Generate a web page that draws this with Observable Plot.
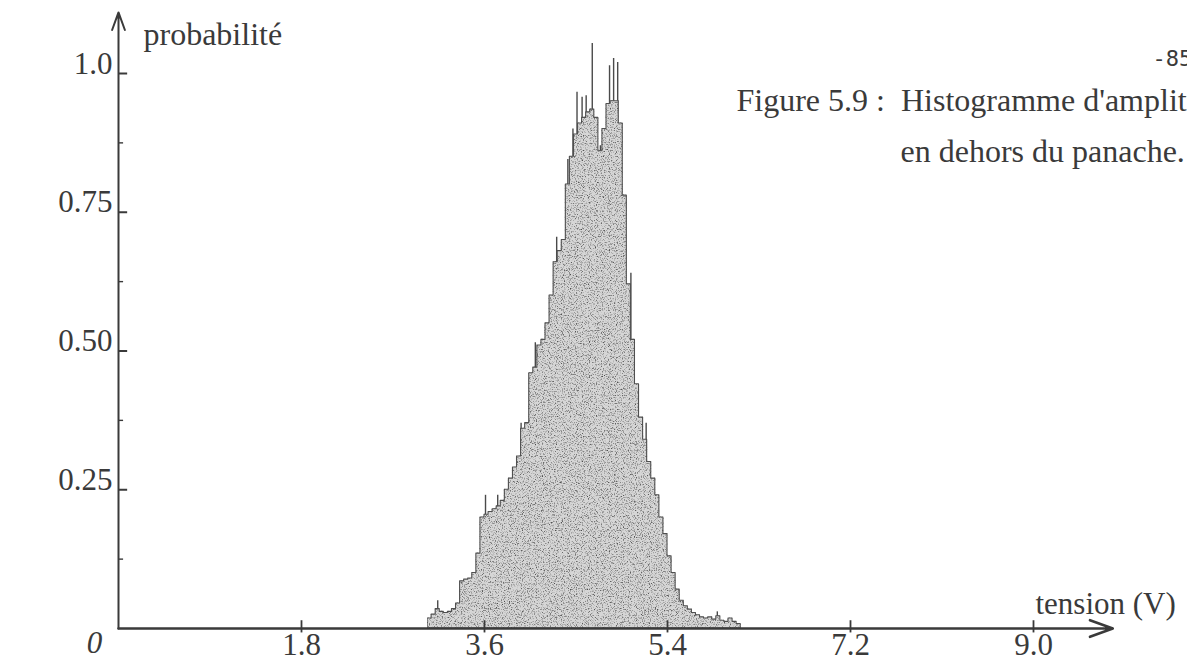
<!DOCTYPE html>
<html>
<head>
<meta charset="utf-8">
<script src="https://cdn.jsdelivr.net/npm/d3@7"></script>
<script src="https://cdn.jsdelivr.net/npm/@observablehq/plot@0.6"></script>
<style>
  html, body { margin: 0; padding: 0; background: #fff; overflow: hidden; }
  #chart svg { display: block; }
</style>
</head>
<body>
<div id="chart"></div>
<script>
// ---- data ----
const binStart = [3.04,3.08,3.12,3.16,3.20,3.24,3.28,3.32,3.36,3.40,3.44,3.48,3.52,3.56,3.60,3.64,3.68,3.72,3.76,3.80,
  3.84,3.88,3.92,3.96,4.00,4.04,4.08,4.12,4.16,4.20,4.24,4.28,4.32,4.36,4.40,4.44,4.48,4.52,4.56,4.60,
  4.64,4.68,4.72,4.76,4.80,4.84,4.88,4.92,4.96,5.00,5.04,5.08,5.12,5.16,5.20,5.24,5.28,5.32,5.36,5.40,
  5.44,5.48,5.52,5.56,5.60,5.64,5.68,5.72,5.76,5.80,5.84,5.88,5.92,5.96,6.00,6.04,6.08,6.12];
const binProb = [0.018,0.025,0.035,0.030,0.028,0.030,0.035,0.045,0.085,0.088,0.090,0.100,0.135,0.200,0.205,0.210,0.215,0.220,0.230,0.250,
  0.270,0.290,0.310,0.360,0.370,0.460,0.470,0.510,0.520,0.550,0.600,0.660,0.680,0.700,0.800,0.850,0.890,0.910,0.920,0.930,
  0.935,0.920,0.860,0.900,0.945,0.950,0.950,0.910,0.780,0.620,0.520,0.440,0.380,0.340,0.300,0.270,0.240,0.200,0.170,0.130,
  0.100,0.070,0.050,0.040,0.034,0.028,0.024,0.020,0.018,0.020,0.016,0.022,0.014,0.012,0.018,0.012,0.008,0];

const spikeV = [3.14,3.61,3.73,3.96,4.10,4.31,4.42,4.47,4.51,4.56,4.60,4.66,4.74,4.83,4.87,4.91,5.04,5.19,5.89];
const spikeP = [0.05,0.24,0.24,0.37,0.515,0.705,0.845,0.90,0.966,0.957,0.96,1.054,0.87,1.014,1.027,1.02,0.64,0.37,0.03];

const xTickValues = [1.8, 3.6, 5.4, 7.2, 9.0];
const xTickLabels = ["1.8", "3.6", "5.4", "7.2", "9.0"];
const yTickValues = [0.25, 0.5, 0.75, 1.0];
const yTickLabels = ["0.25", "0.50", "0.75", "1.0"];
const yMinorTicks = [0.125, 0.375, 0.625, 0.875];

const xLabel = "tension (V)";
const yLabel = "probabilité";
const captionLine1 = "Figure 5.9 :\u00a0\u00a0Histogramme d'amplitude";
const captionLine2 = "en dehors du panache.";
const pageNumber = "-85-";

// ---- tables built from the arrays ----
const hist = binStart.map((v, i) => ({v, p: binProb[i]}));
const spikes = spikeV.map((v, i) => ({v, p: spikeP[i]}));
const xTicks = xTickValues.map((v, i) => ({v, label: xTickLabels[i]}));
const yTicks = yTickValues.map((p, i) => ({p, label: yTickLabels[i]}));

const ink = "#3a3a3a";
const font = "Liberation Serif, Times New Roman, serif";

const chart = Plot.plot({
  width: 1187,
  height: 666,
  marginLeft: 118,
  marginRight: 154,
  marginTop: 73,
  marginBottom: 38,
  style: {fontFamily: font, background: "#fff", overflow: "hidden"},
  x: {domain: [0, 9], axis: null},
  y: {domain: [0, 1], axis: null},
  marks: [
    // spikes first, so that the body of the histogram hides their lower part
    Plot.ruleX(spikes, {x: "v", y1: 0, y2: "p", stroke: "#4a4a4a", strokeWidth: 1.4}),
    Plot.areaY(hist, {x: "v", y: "p", curve: "step-after", fill: "#d6d6d6", stroke: "#505050", strokeWidth: 1.1}),
    // axes with arrows
    Plot.arrow([0], {x1: 0, y1: 0, x2: 9.78, y2: 0, stroke: ink, strokeWidth: 2.6, headLength: 14, headAngle: 40, bend: 0}),
    Plot.arrow([0], {x1: 0, y1: 0, x2: 0, y2: 1.11, stroke: ink, strokeWidth: 2, headLength: 14, headAngle: 40, bend: 0}),
    // ticks
    Plot.ruleY(yTicks, {y: "p", x1: 0, x2: 0.09, stroke: ink, strokeWidth: 2}),
    Plot.ruleY(yMinorTicks, {y: d => d, x1: 0, x2: 0.05, stroke: ink, strokeWidth: 1.4}),
    Plot.ruleX(xTicks, {x: "v", y1: -0.008, y2: 0.014, stroke: ink, strokeWidth: 1.8}),
    // tick labels
    Plot.text(xTicks, {x: "v", y: 0, text: "label", dy: 26, lineAnchor: "bottom", fontSize: 31, fill: ink}),
    Plot.text(yTicks, {x: 0, y: "p", text: "label", dx: -6, textAnchor: "end", lineAnchor: "bottom", fontSize: 31, fill: ink}),
    Plot.text(["0"], {x: 0, y: 0, text: d => d, dx: -24, dy: 24, lineAnchor: "bottom", fontSize: 31, fontStyle: "italic", fill: ink}),
    // axis titles and caption
    Plot.text([yLabel], {frameAnchor: "top-left", text: d => d, dx: 25, dy: -29, textAnchor: "start", lineAnchor: "bottom", fontSize: 32, fill: ink}),
    Plot.text([xLabel], {frameAnchor: "bottom-right", text: d => d, dx: 2, dy: -15, textAnchor: "start", lineAnchor: "bottom", fontSize: 31, fill: ink}),
    Plot.text([captionLine1], {frameAnchor: "top-right", text: d => d, dx: -297, dy: 37, textAnchor: "start", lineAnchor: "bottom", fontSize: 32, fill: ink}),
    Plot.text([captionLine2], {frameAnchor: "top-right", text: d => d, dx: -133, dy: 88, textAnchor: "start", lineAnchor: "bottom", fontSize: 32, fill: ink}),
    Plot.text([pageNumber], {frameAnchor: "top-right", text: d => d, dx: 119, dy: -8, textAnchor: "start", lineAnchor: "bottom", fontSize: 22, fontFamily: "DejaVu Sans Mono, monospace", fill: ink})
  ]
});

// speckled (scanned halftone) texture for the histogram fill
chart.insertAdjacentHTML("afterbegin",
  '<defs><filter id="grain" x="0" y="0" width="1" height="1" color-interpolation-filters="sRGB">' +
  '<feTurbulence type="fractalNoise" baseFrequency="0.85" numOctaves="2" seed="7" result="noise"/>' +
  '<feColorMatrix in="noise" type="matrix" values="0 0 0 0 0.3  0 0 0 0 0.3  0 0 0 0 0.3  3.0 0 0 0 -1.5" result="dots"/>' +
  '<feComposite in="dots" in2="SourceAlpha" operator="in" result="clipped"/>' +
  '<feMerge><feMergeNode in="SourceGraphic"/><feMergeNode in="clipped"/></feMerge>' +
  '</filter></defs>');
const areaPath = chart.querySelector('g[aria-label="area"] path');
if (areaPath) areaPath.setAttribute("filter", "url(#grain)");

document.getElementById("chart").appendChild(chart);
</script>
</body>
</html>
